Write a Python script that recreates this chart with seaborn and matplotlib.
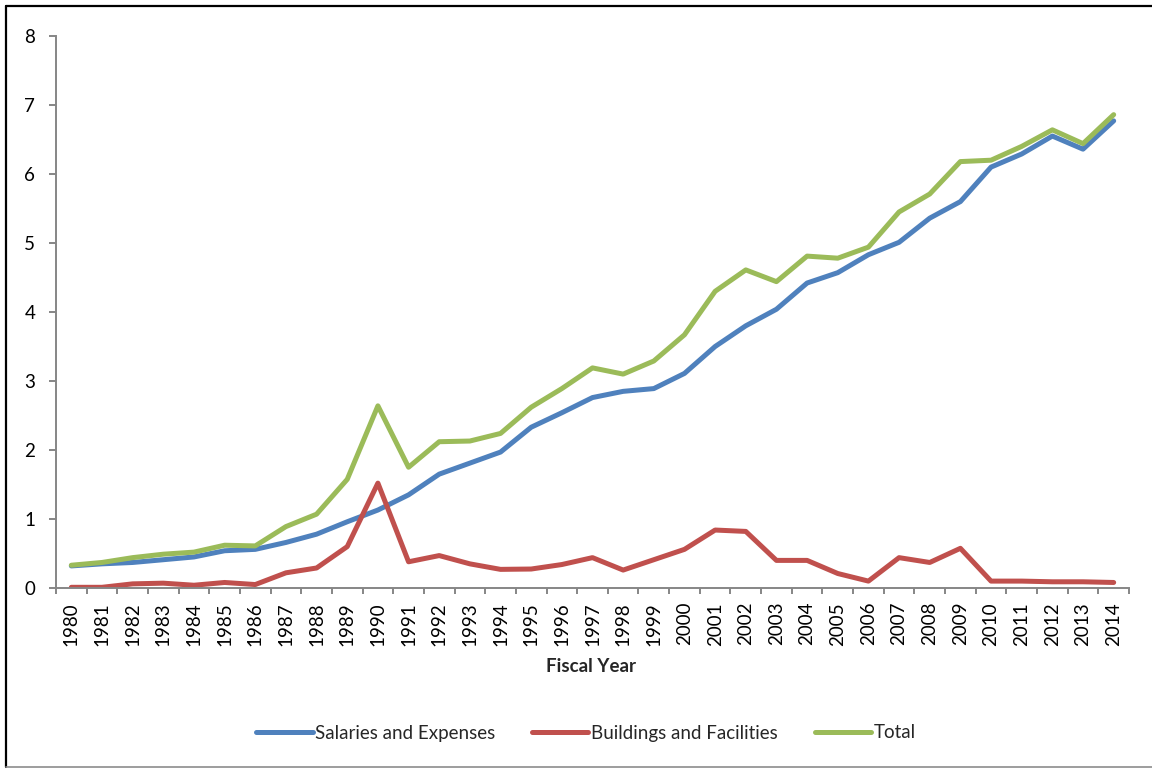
import numpy as np
import pandas as pd
import seaborn as sns
import matplotlib.pyplot as plt
from matplotlib.lines import Line2D

years = [str(y) for y in range(1980, 2015)]
salaries = [0.32, 0.35, 0.37, 0.41, 0.45, 0.54, 0.56, 0.66, 0.78, 0.96,
            1.13, 1.35, 1.65, 1.81, 1.97, 2.33, 2.54, 2.76, 2.85, 2.89,
            3.11, 3.50, 3.80, 4.04, 4.42, 4.57, 4.83, 5.01, 5.36, 5.60,
            6.10, 6.29, 6.55, 6.36, 6.77]
buildings = [0.01, 0.01, 0.06, 0.07, 0.04, 0.08, 0.05, 0.22, 0.29, 0.60,
             1.52, 0.38, 0.47, 0.35, 0.27, 0.275, 0.34, 0.44, 0.26, 0.41,
             0.56, 0.84, 0.82, 0.40, 0.40, 0.21, 0.10, 0.44, 0.37, 0.575,
             0.10, 0.10, 0.09, 0.09, 0.08]
total = [0.33, 0.37, 0.44, 0.49, 0.52, 0.62, 0.61, 0.89, 1.07, 1.575,
         2.64, 1.75, 2.12, 2.13, 2.24, 2.62, 2.89, 3.19, 3.10, 3.29,
         3.67, 4.30, 4.61, 4.44, 4.81, 4.78, 4.94, 5.45, 5.71, 6.18,
         6.20, 6.40, 6.64, 6.44, 6.86]
series_names = ["Salaries and Expenses", "Buildings and Facilities", "Total"]
colors = ["#4F81BD", "#C0504D", "#9BBB59"]
y_ticks = [0, 1, 2, 3, 4, 5, 6, 7, 8]

sns.set_style("white")
plt.rcParams['font.family'] = ['Lato', 'DejaVu Sans']

rows = []
for name, vals in zip(series_names, [salaries, buildings, total]):
    for i, v in enumerate(vals):
        rows.append({"idx": i, "value": v, "series": name})
df = pd.DataFrame(rows)

W, H = 1152, 769
fig = plt.figure(figsize=(W / 100, H / 100), dpi=100)
ax = fig.add_axes([56 / W, 1 - 588 / H, (1129 - 56) / W, (588 - 36) / H])

sns.lineplot(data=df, x="idx", y="value", hue="series", hue_order=series_names,
             palette=colors, linewidth=3.6, ax=ax, sort=False, legend=False)
for ln in ax.get_lines():
    ln.set_solid_capstyle("round")
    ln.set_solid_joinstyle("round")

ax.set_xlim(-0.5, len(years) - 0.5)
ax.set_ylim(0, 8)
ax.set_xticks(np.arange(-0.5, len(years), 1.0))
ax.set_xticklabels([])
ax.set_xticks(np.arange(len(years)), minor=True)
ax.set_xticklabels(years, minor=True, rotation=90, fontsize=13.5)
ax.set_yticks(y_ticks)
ax.set_yticklabels([str(t) for t in y_ticks], fontsize=13.5)
ax.set_xlabel("")
ax.set_ylabel("")

for s in ["top", "right"]:
    ax.spines[s].set_visible(False)
for s in ["left", "bottom"]:
    ax.spines[s].set_color("#868686")
    ax.spines[s].set_linewidth(1.4)
ax.tick_params(axis="x", which="major", direction="out", length=4, width=1.4,
               color="#868686", bottom=True)
ax.tick_params(axis="x", which="minor", length=0, pad=10, labelcolor="black", bottom=True)
ax.tick_params(axis="y", which="major", direction="out", length=5, width=1.4,
               color="#868686", pad=10, left=True, labelcolor="black")

fig.text(591 / W, 1 - 667 / H, "Fiscal Year", ha="center", va="center",
         fontweight="bold", fontsize=13.5)

handles = [Line2D([0], [0], color=c, lw=3.6, solid_capstyle="round") for c in colors]
fig.legend(handles, series_names, loc="center", bbox_to_anchor=(586 / W, 1 - 733 / H),
           ncol=3, frameon=False, handlelength=3.0, handletextpad=0.15,
           columnspacing=1.95, fontsize=13.5)

# outer frame
fig.add_artist(Line2D([6 / W, 6 / W], [1 - 6 / H, 1 - 767 / H], color="black", lw=1.6,
                      transform=fig.transFigure))
fig.add_artist(Line2D([6 / W, 1], [1 - 6 / H, 1 - 6 / H], color="black", lw=1.6,
                      transform=fig.transFigure))
fig.add_artist(Line2D([6 / W, 1], [1 - 767 / H, 1 - 767 / H], color="#8c8c8c", lw=1.2,
                      transform=fig.transFigure))

fig.savefig("out.png", dpi=100, facecolor="white")
